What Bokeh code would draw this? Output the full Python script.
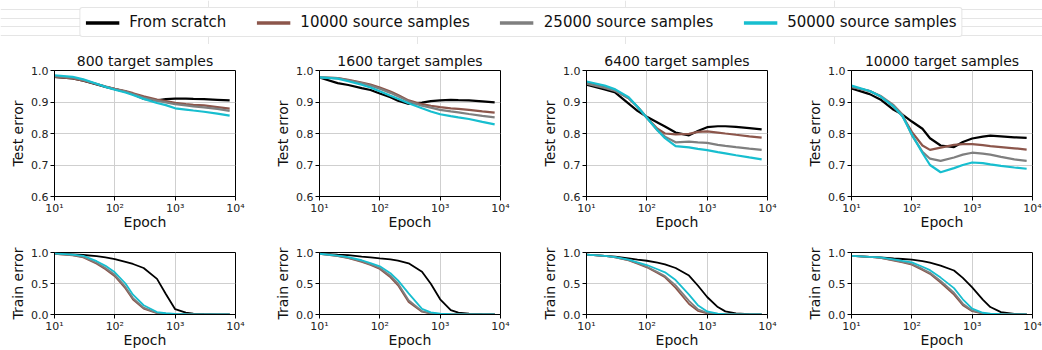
from bokeh.plotting import figure
from bokeh.layouts import column, row
from bokeh.models import (Range1d, FixedTicker, PrintfTickFormatter, CustomJSTickFormatter,
                          Legend, LegendItem)
from bokeh.embed import file_html
from bokeh.resources import INLINE

FONT = "DejaVu Sans"

# ---------------- data ----------------
EPOCHS = [10, 20, 30, 50, 70, 100, 150, 200, 300, 500, 700, 1000, 1500, 2000, 3000, 5000, 8000]
PANEL_TITLES = ["800 target samples", "1600 target samples", "6400 target samples", "10000 target samples"]
SERIES = ["From scratch", "10000 source samples", "25000 source samples", "50000 source samples"]
COLORS = ["#000000", "#8c564b", "#7f7f7f", "#17becf"]
X_TICKS = [10, 100, 1000, 10000]
TEST_TICKS = [0.6, 0.7, 0.8, 0.9, 1.0]
TRAIN_TICKS = [0.0, 0.5, 1.0]

# test error, order: scratch, 10000, 25000, 50000
test_800 = [
    [.980, .975, .968, .956, .948, .941, .933, .925, .910, .905, .909, .911, .911, .910, .909, .907, .905],
    [.980, .975, .968, .957, .949, .942, .935, .928, .918, .908, .903, .897, .893, .891, .889, .884, .879],
    [.982, .977, .970, .957, .949, .941, .933, .925, .914, .904, .899, .893, .889, .886, .883, .878, .872],
    [.985, .980, .972, .958, .948, .939, .930, .922, .910, .897, .890, .880, .876, .873, .869, .863, .857],
]
test_1600 = [
    [.978, .960, .954, .944, .938, .927, .915, .904, .894, .898, .903, .905, .907, .906, .905, .902, .899],
    [.978, .976, .970, .962, .955, .946, .933, .922, .905, .893, .888, .884, .880, .878, .875, .870, .866],
    [.978, .976, .969, .960, .952, .942, .929, .918, .902, .888, .882, .875, .870, .867, .862, .856, .851],
    [.978, .974, .966, .955, .946, .934, .920, .910, .896, .880, .870, .861, .855, .851, .846, .837, .829],
]
test_6400 = [
    [.955, .940, .930, .895, .872, .853, .835, .822, .803, .794, .808, .820, .823, .823, .821, .817, .813],
    [.962, .948, .937, .912, .885, .850, .815, .800, .797, .799, .805, .807, .803, .800, .796, .791, .787],
    [.958, .945, .935, .912, .885, .850, .810, .790, .772, .774, .772, .770, .764, .761, .757, .752, .748],
    [.965, .952, .940, .915, .885, .850, .810, .785, .760, .756, .751, .747, .741, .737, .731, .724, .718],
]
test_10000 = [
    [.943, .925, .908, .875, .860, .838, .815, .785, .762, .757, .773, .784, .790, .793, .791, .788, .786],
    [.948, .935, .918, .885, .855, .805, .762, .748, .755, .764, .766, .766, .763, .760, .757, .753, .749],
    [.948, .935, .920, .890, .860, .795, .742, .720, .713, .724, .733, .739, .736, .733, .726, .718, .713],
    [.952, .935, .918, .885, .855, .797, .738, .700, .677, .690, .700, .708, .706, .702, .697, .692, .688],
]

# train error, order: scratch, 10000, 25000, 50000
train_800 = [
    [.980, .970, .960, .940, .920, .894, .850, .815, .750, .574, .330, .085, .030, .015, .008, .003, .001],
    [.980, .955, .920, .820, .730, .617, .420, .240, .096, .020, .010, .004, .002, .001, .000, .000, .000],
    [.980, .958, .928, .835, .750, .640, .445, .265, .110, .025, .012, .005, .002, .001, .000, .000, .000],
    [.985, .965, .947, .860, .785, .681, .500, .320, .149, .040, .020, .008, .004, .002, .001, .000, .000],
]
train_1600 = [
    [.980, .965, .958, .935, .920, .904, .890, .870, .826, .690, .495, .245, .070, .030, .015, .008, .004],
    [.980, .940, .908, .850, .800, .734, .600, .470, .200, .045, .015, .005, .002, .001, .000, .000, .000],
    [.980, .945, .915, .860, .810, .750, .625, .500, .230, .055, .020, .007, .003, .001, .000, .000, .000],
    [.980, .950, .925, .875, .830, .777, .665, .550, .340, .090, .035, .012, .005, .003, .001, .000, .000],
]
train_6400 = [
    [.965, .945, .932, .905, .885, .867, .835, .810, .750, .628, .468, .282, .120, .050, .018, .006, .002],
    [.965, .945, .920, .872, .820, .761, .670, .600, .430, .170, .060, .020, .006, .002, .001, .000, .000],
    [.965, .945, .922, .876, .827, .770, .685, .620, .470, .220, .085, .028, .008, .003, .001, .000, .000],
    [.965, .945, .925, .885, .840, .798, .730, .680, .555, .320, .150, .050, .015, .006, .002, .000, .000],
]
train_10000 = [
    [.947, .930, .922, .905, .895, .884, .860, .835, .789, .710, .590, .437, .240, .120, .038, .010, .003],
    [.947, .928, .912, .870, .840, .805, .720, .655, .516, .320, .150, .053, .014, .005, .002, .000, .000],
    [.947, .929, .915, .876, .848, .815, .735, .672, .540, .350, .175, .065, .018, .007, .002, .000, .000],
    [.947, .930, .921, .890, .865, .842, .770, .715, .595, .425, .245, .095, .028, .012, .004, .001, .000],
]

TEST_DATA = [test_800, test_1600, test_6400, test_10000]
TRAIN_DATA = [train_800, train_1600, train_6400, train_10000]

# ---------------- layout ----------------
WIDTHS = [260, 260, 260, 262]
BORDERS = [(54, 25), (59, 20), (66, 13), (71, 10)]

SUP = "{'0':'\\u2070','1':'\\u00b9','2':'\\u00b2','3':'\\u00b3','4':'\\u2074','5':'\\u2075','6':'\\u2076','7':'\\u2077','8':'\\u2078','9':'\\u2079','-':'\\u207b'}"
log_fmt_code = (
    "const sup = " + SUP + ";\n"
    "const e = Math.round(Math.log10(tick));\n"
    "return '10' + String(e).split('').map(c => sup[c]).join('');"
)


def style(p, yticks, ylabel):
    p.outline_line_color = "black"
    p.outline_line_width = 1
    p.background_fill_color = "white"
    p.border_fill_color = "white"
    p.xaxis.ticker = FixedTicker(ticks=X_TICKS)
    p.xaxis.formatter = CustomJSTickFormatter(code=log_fmt_code)
    p.yaxis.ticker = FixedTicker(ticks=yticks)
    p.yaxis.formatter = PrintfTickFormatter(format="%.1f")
    for ax in (p.xaxis[0], p.yaxis[0]):
        ax.axis_line_color = "black"
        ax.major_tick_line_color = "black"
        ax.major_tick_in = 0
        ax.major_tick_out = 4
        ax.minor_tick_in = 0
        ax.minor_tick_out = 0
        ax.major_label_text_font = FONT
        ax.major_label_text_font_size = "11px"
        ax.major_label_text_color = "#222222"
        ax.axis_label_text_font = FONT
        ax.axis_label_text_font_size = "14px"
        ax.axis_label_text_font_style = "normal"
        ax.axis_label_text_color = "#111111"
    p.xaxis.major_label_standoff = 1
    p.xaxis.axis_label_standoff = -4
    p.yaxis.major_label_standoff = 2
    p.yaxis.axis_label_standoff = 2
    p.xaxis.axis_label = "Epoch"
    p.yaxis.axis_label = ylabel
    p.grid.grid_line_color = "#cfcfcf"
    p.grid.grid_line_width = 1
    p.xgrid.ticker = FixedTicker(ticks=X_TICKS)
    p.ygrid.ticker = FixedTicker(ticks=yticks)


def make_panel(col, kind):
    left, right = BORDERS[col]
    if kind == "test":
        p = figure(width=WIDTHS[col], height=188, x_axis_type="log",
                   x_range=Range1d(10, 10000), y_range=Range1d(0.6, 1.0),
                   output_backend="svg", toolbar_location=None,
                   min_border_left=left, min_border_right=right,
                   min_border_top=26, min_border_bottom=35,
                   title=PANEL_TITLES[col])
        p.title.text_font = FONT
        p.title.text_font_size = "14px"
        p.title.text_font_style = "normal"
        p.title.text_color = "#111111"
        p.title.align = "center"
        p.title.standoff = 3
        style(p, TEST_TICKS, "Test error")
        data = TEST_DATA[col]
        lw = 2.2
    else:
        p = figure(width=WIDTHS[col], height=118, x_axis_type="log",
                   x_range=Range1d(10, 10000), y_range=Range1d(0.0, 1.0),
                   output_backend="svg", toolbar_location=None,
                   min_border_left=left, min_border_right=right,
                   min_border_top=20, min_border_bottom=36)
        style(p, TRAIN_TICKS, "Train error")
        data = TRAIN_DATA[col]
        lw = 1.8
    for values, color in zip(data, COLORS):
        p.line(EPOCHS, values, line_color=color, line_width=lw)
    return p


# legend strip: proxy lines carry the first panel's data but sit outside this strip's ranges
leg = figure(width=1042, height=44, x_range=Range1d(0, 1), y_range=Range1d(0, 1),
             x_axis_location=None, y_axis_location=None, toolbar_location=None,
             output_backend="svg", min_border=0)
leg.outline_line_color = None
leg.background_fill_color = "white"
leg.border_fill_color = "white"
items = []
for name, color, values in zip(SERIES, COLORS, test_800):
    r = leg.line(x=EPOCHS, y=values, line_color=color, line_width=3.5)
    items.append(LegendItem(label=name, renderers=[r]))
legend = Legend(items=items, orientation="horizontal", location="center",
                label_text_font=FONT, label_text_font_size="15px", label_text_color="#111111",
                glyph_width=34, glyph_height=15, label_height=15, label_standoff=10,
                spacing=30, padding=5, margin=0,
                border_line_color="#cccccc", border_line_width=1,
                background_fill_color="white", background_fill_alpha=1.0)
if "border_radius" in Legend.properties():
    legend.border_radius = 3
leg.add_layout(legend, "center")

top_row = row(*[make_panel(i, "test") for i in range(4)])
bot_row = row(*[make_panel(i, "train") for i in range(4)])
page = column(leg, top_row, bot_row)

open("out.html", "w", encoding="utf-8").write(file_html(page, INLINE))
